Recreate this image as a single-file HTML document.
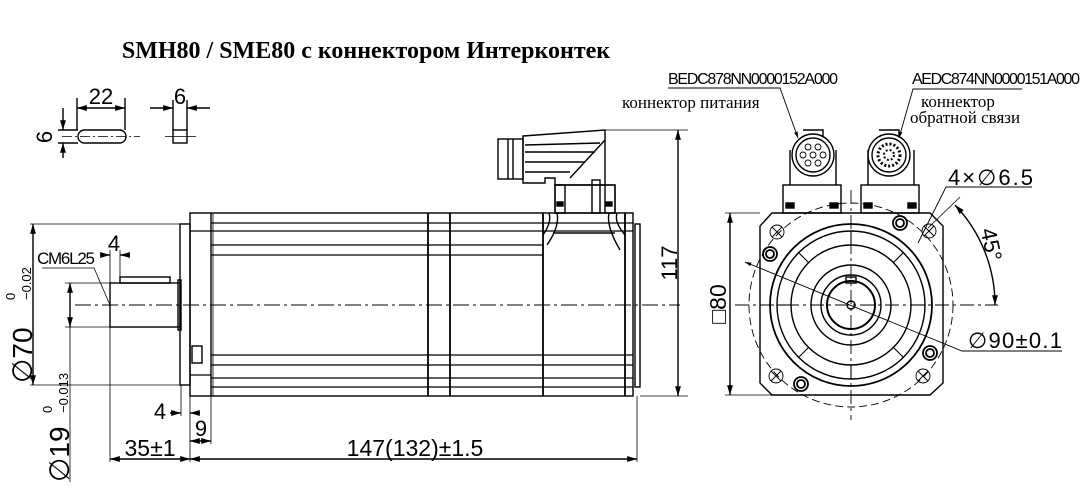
<!DOCTYPE html>
<html><head><meta charset="utf-8"><style>
html,body{margin:0;padding:0;background:#fff;}
svg{display:block;}
.s{font-family:"Liberation Sans",sans-serif;}
.r{font-family:"Liberation Serif","Noto Serif CJK SC",serif;}
</style></head><body>
<svg width="1082" height="496" viewBox="0 0 1082 496" xmlns="http://www.w3.org/2000/svg">
<defs>
<marker id="a" viewBox="0 0 10 6" refX="10" refY="3" markerWidth="7" markerHeight="4.5" orient="auto-start-reverse"><path d="M0,0L10,3L0,6z" fill="#000"/></marker>
</defs>
<g fill="none" stroke="#000" stroke-width="1.4">
<!-- title -->
<text x="366" y="58" class="r" font-size="24" font-weight="bold" fill="#000" stroke="none" text-anchor="middle">SMH80 / SME80 с коннектором Интерконтек</text>

<!-- key icons -->
<rect x="78" y="130" width="48" height="13" rx="6.5"/>
<line x1="62" y1="136.5" x2="140" y2="136.5" stroke-dasharray="10,3,2,3" stroke-width="0.8"/>
<line x1="77" y1="98" x2="77" y2="130"/><line x1="125" y1="98" x2="125" y2="130"/>
<line x1="77" y1="108" x2="125" y2="108" marker-start="url(#a)" marker-end="url(#a)"/>
<line x1="58" y1="130" x2="78" y2="130"/><line x1="58" y1="143" x2="78" y2="143"/>
<line x1="63" y1="108" x2="63" y2="130" marker-end="url(#a)"/>
<line x1="63" y1="158" x2="63" y2="143" marker-end="url(#a)"/>
<rect x="173" y="130" width="14" height="13"/>
<line x1="165" y1="136.5" x2="196" y2="136.5" stroke-width="0.8"/>
<line x1="173" y1="100" x2="173" y2="130"/><line x1="187" y1="100" x2="187" y2="130"/>
<line x1="150" y1="108" x2="173" y2="108" marker-end="url(#a)"/>
<line x1="210" y1="108" x2="187" y2="108" marker-end="url(#a)"/>
<g class="s" font-size="22" fill="#000" stroke="none">
<text x="101" y="104" text-anchor="middle">22</text>
<text x="180" y="104" text-anchor="middle">6</text>
<text transform="translate(52,137) rotate(-90)" text-anchor="middle">6</text>
</g>

<!-- side view body -->
<rect x="190" y="213" width="443" height="183"/>
<line x1="211" y1="213" x2="211" y2="396"/>
<line x1="213" y1="213" x2="213" y2="396" stroke-width="0.8"/>
<rect x="180" y="224" width="10" height="161"/>
<rect x="635" y="224" width="5" height="163"/>
<g stroke-width="1.2">
<line x1="211" y1="223" x2="633" y2="223"/><line x1="211" y1="231" x2="633" y2="231"/>
<line x1="211" y1="245" x2="543" y2="245"/><line x1="211" y1="255" x2="543" y2="255"/>
<line x1="190" y1="231" x2="211" y2="231"/><line x1="190" y1="375" x2="211" y2="375"/>
<line x1="211" y1="355" x2="633" y2="355"/><line x1="211" y1="365" x2="633" y2="365"/>
<line x1="211" y1="378" x2="633" y2="378"/><line x1="211" y1="387" x2="633" y2="387"/>
</g>
<line x1="428" y1="213" x2="428" y2="396" stroke-width="1.8"/>
<line x1="450" y1="213" x2="450" y2="396" stroke-width="1.8"/>
<line x1="543" y1="213" x2="543" y2="396" stroke-width="1.8"/>
<line x1="625" y1="213" x2="625" y2="396" stroke-width="1.8"/>
<path d="M549,213 Q552,222 543,235 M557,213 Q560,226 547,245 M617,213 Q614,222 625,235 M609,213 Q606,226 620,250"/>
<line x1="553" y1="233" x2="615" y2="233"/>
<rect x="192" y="346" width="10" height="17"/>
<!-- shaft -->
<rect x="110" y="283" width="70" height="44"/>
<rect x="178" y="280" width="3" height="50"/>
<rect x="120" y="277" width="50" height="6"/>
<line x1="75" y1="305" x2="680" y2="305" stroke-dasharray="16,4,3,4" stroke-width="0.9"/>
<!-- connector side -->
<rect x="555" y="185" width="60" height="28"/>
<rect x="555" y="185" width="10" height="28"/><rect x="605" y="185" width="10" height="28"/>
<rect x="557" y="202" width="6" height="4" fill="#000"/><rect x="606" y="202" width="6" height="4" fill="#000"/>
<rect x="592" y="180" width="8" height="33"/>
<path d="M523,136 L605,130 L605,185 L555,185 L555,178 L545,178 L545,183 L523,183 Z"/>
<path d="M525,145 L600,143 M525,152 L595,152 M525,162 L585,162 M525,172 L570,172 M605,140 L570,178"/>
<rect x="498" y="139" width="25" height="40"/>
<line x1="508" y1="139" x2="508" y2="179"/><line x1="513" y1="139" x2="513" y2="179"/>
<!-- dims side -->
<line x1="605" y1="130" x2="688" y2="130" stroke-width="0.8"/>
<line x1="640" y1="396" x2="688" y2="396" stroke-width="0.8"/>
<line x1="678" y1="130" x2="678" y2="396" marker-start="url(#a)" marker-end="url(#a)"/>
<line x1="30" y1="224" x2="180" y2="224" stroke-width="0.8"/>
<line x1="30" y1="385" x2="180" y2="385" stroke-width="0.8"/>
<line x1="33" y1="224" x2="33" y2="385" marker-start="url(#a)" marker-end="url(#a)"/>
<line x1="65" y1="283" x2="110" y2="283" stroke-width="0.8"/>
<line x1="65" y1="327" x2="110" y2="327" stroke-width="0.8"/>
<line x1="70" y1="283" x2="70" y2="327" marker-start="url(#a)" marker-end="url(#a)"/>
<line x1="70" y1="327" x2="70" y2="482" stroke-width="0.8"/>
<line x1="110" y1="250" x2="110" y2="462" stroke-width="0.8"/>
<line x1="120" y1="250" x2="120" y2="277" stroke-width="0.8"/>
<line x1="100" y1="255" x2="110" y2="255" marker-end="url(#a)"/>
<line x1="130" y1="255" x2="120" y2="255" marker-end="url(#a)"/>
<path d="M42,268 L94,268 L110,305" stroke-width="0.8"/>
<line x1="190" y1="396" x2="190" y2="462" stroke-width="0.8"/>
<line x1="181" y1="385" x2="181" y2="416" stroke-width="0.8"/>
<line x1="211" y1="396" x2="211" y2="444" stroke-width="0.8"/>
<line x1="637" y1="396" x2="637" y2="462" stroke-width="0.8"/>
<line x1="170" y1="413" x2="181" y2="413" marker-end="url(#a)"/>
<line x1="200" y1="413" x2="190" y2="413" marker-end="url(#a)"/>
<line x1="190" y1="441" x2="211" y2="441" marker-start="url(#a)" marker-end="url(#a)"/>
<line x1="110" y1="459" x2="190" y2="459" marker-start="url(#a)" marker-end="url(#a)"/>
<line x1="190" y1="459" x2="637" y2="459" marker-start="url(#a)" marker-end="url(#a)"/>
<g class="s" font-size="22" fill="#000" stroke="none">
<text transform="translate(677,263) rotate(-90)" text-anchor="middle">117</text>
<text transform="translate(32,383) rotate(-90)" font-size="28">∅70</text>
<text transform="translate(15,300) rotate(-90)" font-size="13">0</text>
<text transform="translate(31,300) rotate(-90)" font-size="13">−0.02</text>
<text transform="translate(69,482) rotate(-90)" font-size="28">∅19</text>
<text transform="translate(52,413) rotate(-90)" font-size="13">0</text>
<text transform="translate(68,413) rotate(-90)" font-size="13">−0.013</text>
<text x="37" y="264" font-size="17" textLength="58">CM6L25</text>
<text x="114" y="251" text-anchor="middle">4</text>
<text x="160" y="419" text-anchor="middle">4</text>
<text x="201" y="436" text-anchor="middle">9</text>
<text x="150" y="456" text-anchor="middle" font-size="23">35±1</text>
<text x="415" y="456" text-anchor="middle" font-size="23">147(132)±1.5</text>
</g>

<!-- front view -->
<path d="M772,213 L930,213 L943,226 L943,383 L930,395 L772,395 L760,383 L760,226 Z"/>
<circle cx="851" cy="305" r="102" stroke-dasharray="8,4" stroke-width="0.9"/>
<circle cx="851" cy="305" r="81" stroke-width="1.8"/>
<circle cx="851" cy="305" r="74"/>
<circle cx="851" cy="305" r="60"/>
<circle cx="851" cy="305" r="40"/>
<circle cx="851" cy="305" r="30"/>
<circle cx="851" cy="305" r="24" stroke-width="2"/>
<circle cx="851" cy="305" r="4"/>
<rect x="846" y="277" width="10" height="6"/>
<g stroke-width="1.1">
<line x1="851" y1="231" x2="851" y2="245"/><line x1="851" y1="365" x2="851" y2="379"/>
<line x1="777" y1="305" x2="791" y2="305"/><line x1="911" y1="305" x2="925" y2="305"/>
<line x1="799" y1="253" x2="809" y2="263"/><line x1="903" y1="253" x2="893" y2="263"/>
<line x1="799" y1="357" x2="809" y2="347"/><line x1="903" y1="357" x2="893" y2="347"/>
</g>
<g stroke-width="0.9">
<circle cx="777" cy="232" r="7"/><path d="M772,227 L782,237 M782,227 L772,237"/>
<circle cx="929" cy="231" r="7"/><path d="M924,226 L934,236 M934,226 L924,236"/>
<circle cx="776" cy="376" r="7"/><path d="M771,371 L781,381 M781,371 L771,381"/>
<circle cx="923" cy="376" r="7"/><path d="M918,371 L928,381 M928,371 L918,381"/>
</g>
<g stroke-width="1.8">
<circle cx="770" cy="254" r="7"/><circle cx="770" cy="254" r="4"/>
<circle cx="900" cy="223" r="7"/><circle cx="900" cy="223" r="4"/>
<circle cx="930" cy="353" r="7"/><circle cx="930" cy="353" r="4"/>
<circle cx="801" cy="384" r="7"/><circle cx="801" cy="384" r="4"/>
</g>
<line x1="735" y1="305" x2="998" y2="305" stroke-dasharray="14,4,3,4" stroke-width="0.9"/>
<line x1="851" y1="190" x2="851" y2="420" stroke-dasharray="14,4,3,4" stroke-width="0.9"/>
<!-- front connectors -->
<rect x="783" y="185" width="58" height="28"/><rect x="861" y="185" width="58" height="28"/>
<rect x="786" y="203" width="8" height="5" fill="#000"/><rect x="830" y="203" width="8" height="5" fill="#000"/>
<rect x="864" y="203" width="8" height="5" fill="#000"/><rect x="908" y="203" width="8" height="5" fill="#000"/>
<path d="M790,185 L790,150 M836,185 L836,150 M868,185 L868,150 M914,185 L914,150"/>
<path d="M803,130 L823,130 L823,136 M879,130 L899,130 L899,136"/>
<circle cx="813" cy="155" r="21"/><circle cx="813" cy="155" r="17"/>
<circle cx="889" cy="155" r="21"/><circle cx="889" cy="155" r="17"/>
<g stroke-width="0.9">
<circle cx="813" cy="155" r="3"/><circle cx="803" cy="155" r="3"/><circle cx="823" cy="155" r="3"/>
<circle cx="808" cy="163" r="3"/><circle cx="818" cy="163" r="3"/><circle cx="808" cy="147" r="3"/><circle cx="818" cy="147" r="3"/>
<circle cx="889" cy="155" r="11" stroke-dasharray="2,2" stroke-width="3"/>
<circle cx="889" cy="155" r="5" stroke-dasharray="2,2" stroke-width="2"/>
</g>
<!-- front dims -->
<line x1="725" y1="213" x2="760" y2="213" stroke-width="0.8"/>
<line x1="725" y1="395" x2="772" y2="395" stroke-width="0.8"/>
<line x1="730" y1="213" x2="730" y2="395" marker-start="url(#a)" marker-end="url(#a)"/>
<path d="M668,88 L780,88 L798,138" stroke-width="0.9" marker-end="url(#a)"/>
<path d="M1022,89 L913,89 L899,138" stroke-width="0.9" marker-end="url(#a)"/>
<path d="M1032,187 L946,187 L918,243" stroke-width="0.9"/>
<path d="M1062,351 L962,351 L745,262" stroke-width="0.9" marker-end="url(#a)"/>
<line x1="928" y1="228" x2="960" y2="197" stroke-width="0.8"/>
<path d="M955,205 A145,145 0 0 1 995,305" marker-start="url(#a)" marker-end="url(#a)"/>
<g class="s" fill="#000" stroke="none">
<text x="668" y="84" font-size="16" textLength="170">BEDC878NN0000152A000</text>
<text x="912" y="84" font-size="16" textLength="168">AEDC874NN0000151A000</text>
<text x="948" y="185" font-size="22" textLength="85">4×∅6.5</text>
<text x="968" y="348" font-size="22" textLength="94">∅90±0.1</text>
<text transform="translate(726,304) rotate(-90)" font-size="23" text-anchor="middle">□80</text>
<text transform="translate(984,246) rotate(78)" font-size="22" text-anchor="middle">45°</text>
</g>
<g class="r" font-size="17" fill="#000" stroke="none">
<text x="622" y="108">коннектор питания</text>
<text x="921" y="107">коннектор</text>
<text x="910" y="123">обратной связи</text>
</g>
</g>
</svg>
</body></html>
